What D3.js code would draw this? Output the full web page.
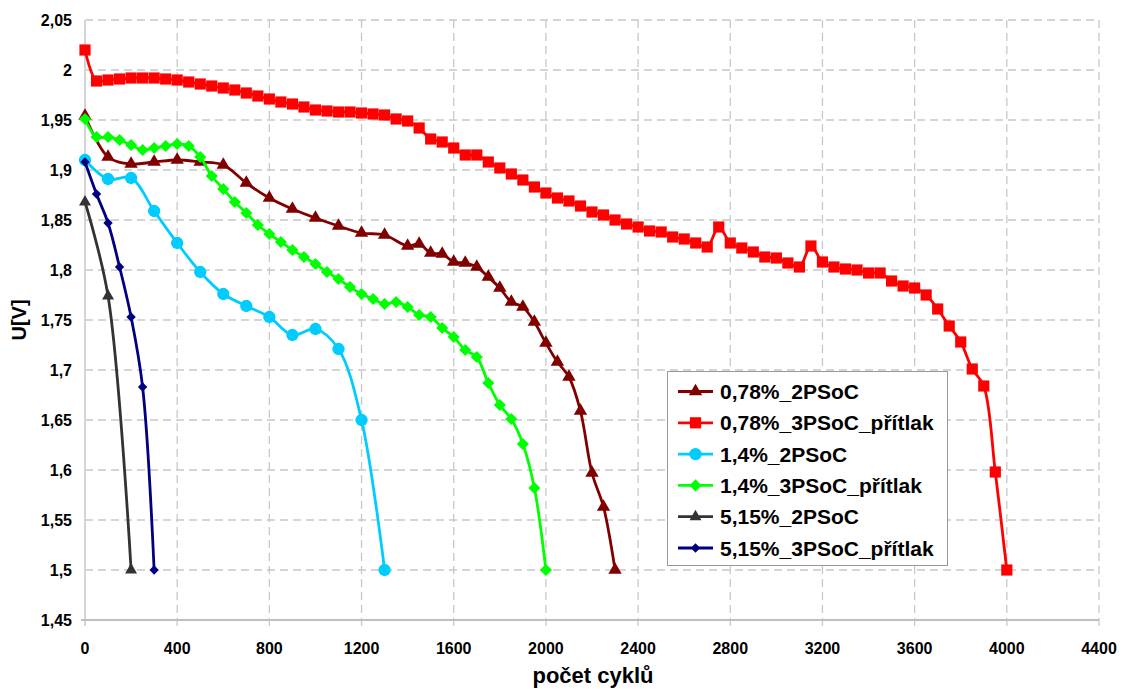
<!DOCTYPE html>
<html>
<head>
<meta charset="utf-8">
<script src="https://cdn.jsdelivr.net/npm/d3@7"></script>
<style>
  body { margin: 0; background: #fff; }
  svg { font-family: "Liberation Sans", Arial, sans-serif; font-weight: bold; }
</style>
</head>
<body>
<div id="chart"></div>
<script>
// cycles + voltages
var cyc_078_2 = [0, 100, 200, 300, 400, 500, 600, 700, 800, 900, 1000, 1100, 1200, 1300, 1400, 1450, 1500, 1550, 1600, 1650, 1700, 1750, 1800, 1850, 1900, 1950, 2000, 2050, 2100, 2150, 2200, 2250, 2300];
var u_078_2 = [1.954, 1.913, 1.906, 1.908, 1.910, 1.908, 1.905, 1.887, 1.872, 1.861, 1.852, 1.844, 1.837, 1.835, 1.824, 1.826, 1.817, 1.816, 1.808, 1.807, 1.803, 1.793, 1.782, 1.768, 1.763, 1.748, 1.727, 1.708, 1.693, 1.659, 1.597, 1.563, 1.500];

var cyc_078_3 = d3.range(0, 4001, 50);
var u_078_3 = [2.020, 1.989, 1.990, 1.991, 1.992, 1.992, 1.992, 1.991, 1.990, 1.988,
  1.986, 1.984, 1.982, 1.980, 1.977, 1.974, 1.971, 1.968, 1.966, 1.963,
  1.960, 1.959, 1.958, 1.958, 1.957, 1.956, 1.955, 1.951, 1.949, 1.942,
  1.931, 1.928, 1.922, 1.915, 1.915, 1.908, 1.902, 1.896, 1.890, 1.883,
  1.877, 1.872, 1.869, 1.864, 1.858, 1.855, 1.850, 1.846, 1.843, 1.839,
  1.838, 1.833, 1.831, 1.827, 1.823, 1.843, 1.827, 1.822, 1.818, 1.813,
  1.812, 1.807, 1.803, 1.824, 1.808, 1.803, 1.801, 1.800, 1.797, 1.797,
  1.789, 1.784, 1.782, 1.775, 1.761, 1.744, 1.728, 1.701, 1.684, 1.598,
  1.500];

var cyc_14_2 = [0, 100, 200, 300, 400, 500, 600, 700, 800, 900, 1000, 1100, 1200, 1300];
var u_14_2 = [1.910, 1.891, 1.892, 1.859, 1.827, 1.798, 1.776, 1.764, 1.753, 1.735, 1.741, 1.721, 1.650, 1.500];

var cyc_14_3 = d3.range(0, 2001, 50);
var u_14_3 = [1.951, 1.933, 1.933, 1.930, 1.925, 1.920, 1.922, 1.924, 1.926, 1.924,
  1.913, 1.894, 1.881, 1.868, 1.857, 1.845, 1.836, 1.828, 1.820, 1.813,
  1.806, 1.798, 1.791, 1.783, 1.776, 1.771, 1.766, 1.768, 1.763, 1.755,
  1.753, 1.742, 1.733, 1.720, 1.713, 1.687, 1.665, 1.651, 1.626, 1.582,
  1.500];

var cyc_515_2 = [0, 100, 200];
var u_515_2 = [1.868, 1.774, 1.500];

var cyc_515_3 = [0, 50, 100, 150, 200, 250, 300];
var u_515_3 = [1.908, 1.876, 1.847, 1.803, 1.753, 1.683, 1.500];

var names = ["0,78%_2PSoC", "0,78%_3PSoC_přítlak", "1,4%_2PSoC", "1,4%_3PSoC_přítlak", "5,15%_2PSoC", "5,15%_3PSoC_přítlak"];
var xTicks = d3.range(0, 4401, 400);
var yTicks = d3.range(0, 13).map(function (i) { return +(1.45 + i * 0.05).toFixed(2); });

var series = [
  { name: names[0], x: cyc_078_2, y: u_078_2, color: "#800000", shape: "tri", size: 78, width: 2.8 },
  { name: names[1], x: cyc_078_3, y: u_078_3, color: "#ff0000", shape: "sq", size: 125, width: 2.8 },
  { name: names[2], x: cyc_14_2, y: u_14_2, color: "#00ccff", shape: "circ", size: 120, width: 2.8 },
  { name: names[3], x: cyc_14_3, y: u_14_3, color: "#00ff00", shape: "dia", size: 74, width: 2.8 },
  { name: names[4], x: cyc_515_2, y: u_515_2, color: "#333333", shape: "tri", size: 62, width: 2.8 },
  { name: names[5], x: cyc_515_3, y: u_515_3, color: "#000080", shape: "dia", size: 44, width: 2.8 }
];

var W = 1122, H = 689;
var pLeft = 85, pRight = 1099, pTop = 20, pBottom = 620;

var svg = d3.select("#chart").append("svg")
  .attr("width", W).attr("height", H);

var x = d3.scaleLinear().domain([0, 4400]).range([pLeft, pRight]);
var y = d3.scaleLinear().domain([1.45, 2.05]).range([pBottom, pTop]);

// grid
svg.append("g").selectAll("line")
  .data(yTicks.filter(function (d) { return d > 1.45; }))
  .enter().append("line")
  .attr("x1", pLeft).attr("x2", pRight)
  .attr("y1", function (d) { return y(d); }).attr("y2", function (d) { return y(d); })
  .attr("stroke", "#c8c8c8").attr("stroke-width", 1.3).attr("stroke-dasharray", "8,5");

svg.append("g").selectAll("line")
  .data(xTicks.filter(function (d) { return d > 0; }))
  .enter().append("line")
  .attr("y1", pTop).attr("y2", pBottom + 6)
  .attr("x1", function (d) { return x(d); }).attr("x2", function (d) { return x(d); })
  .attr("stroke", "#c8c8c8").attr("stroke-width", 1.3).attr("stroke-dasharray", "8,5");

// axes lines
svg.append("line").attr("x1", x(0)).attr("x2", x(0)).attr("y1", pTop).attr("y2", pBottom + 6)
  .attr("stroke", "#d4d4d4").attr("stroke-width", 2);
svg.append("line").attr("x1", pLeft - 4).attr("x2", pRight).attr("y1", pBottom).attr("y2", pBottom)
  .attr("stroke", "#c0c0c0").attr("stroke-width", 2);

var fmtY = function (d) { return String(d).replace(".", ","); };

svg.append("g").selectAll("text")
  .data(yTicks)
  .enter().append("text")
  .attr("x", 72).attr("y", function (d) { return y(d); })
  .attr("dy", "0.36em").attr("text-anchor", "end")
  .attr("font-size", 16).text(fmtY);

svg.append("g").selectAll("text")
  .data(xTicks)
  .enter().append("text")
  .attr("x", function (d) { return x(d); }).attr("y", 654)
  .attr("text-anchor", "middle").attr("font-size", 16)
  .text(function (d) { return d; });

svg.append("text").attr("x", 593).attr("y", 683)
  .attr("text-anchor", "middle").attr("font-size", 22).text("počet cyklů");

svg.append("text").attr("transform", "translate(26,320) rotate(-90)")
  .attr("text-anchor", "middle").attr("font-size", 20).text("U[V]");

function symPath(shape, size) {
  if (shape == "tri") return d3.symbol().type(d3.symbolTriangle).size(size)();
  if (shape == "circ") return d3.symbol().type(d3.symbolCircle).size(size)();
  return d3.symbol().type(d3.symbolSquare).size(size)();
}
function symRot(shape) { return shape == "dia" ? " rotate(45)" : ""; }

var line = d3.line().curve(d3.curveCatmullRom.alpha(0.5));

series.forEach(function (s) {
  var pts = s.x.map(function (c, i) { return [x(c), y(s.y[i])]; });
  var g = svg.append("g");
  g.append("path").attr("d", line(pts))
    .attr("fill", "none").attr("stroke", s.color).attr("stroke-width", s.width);
  g.selectAll("path.m").data(pts).enter().append("path")
    .attr("class", "m")
    .attr("d", symPath(s.shape, s.size))
    .attr("transform", function (p) { return "translate(" + p[0] + "," + p[1] + ")" + symRot(s.shape); })
    .attr("fill", s.color);
});

// legend
var lg = svg.append("g");
lg.append("rect").attr("x", 667.5).attr("y", 371.5).attr("width", 280).attr("height", 194)
  .attr("fill", "#fff").attr("stroke", "#999").attr("stroke-width", 1);

series.forEach(function (s, i) {
  var ly = 391.5 + i * 31.3;
  lg.append("line").attr("x1", 678).attr("x2", 713).attr("y1", ly).attr("y2", ly)
    .attr("stroke", s.color).attr("stroke-width", s.width);
  lg.append("path").attr("d", symPath(s.shape, s.size))
    .attr("transform", "translate(695.5," + ly + ")" + symRot(s.shape))
    .attr("fill", s.color);
  lg.append("text").attr("x", 720).attr("y", ly).attr("dy", "0.36em")
    .attr("font-size", 21).text(s.name);
});
</script>
</body>
</html>
